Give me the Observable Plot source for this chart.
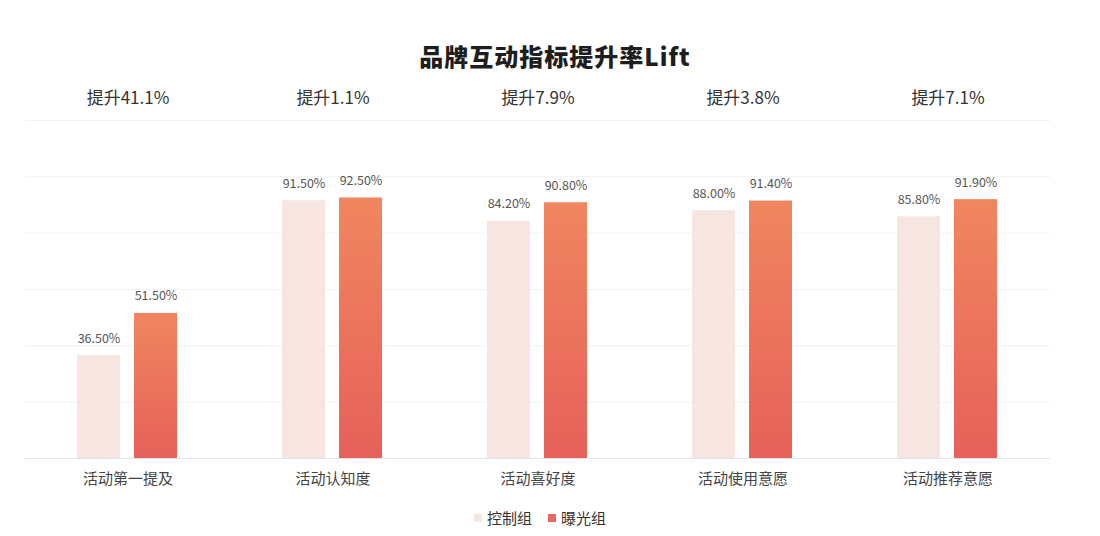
<!DOCTYPE html>
<html>
<head>
<meta charset="utf-8">
<script src="https://cdn.jsdelivr.net/npm/d3@7"></script>
<script src="https://cdn.jsdelivr.net/npm/@observablehq/plot@0.6"></script>
<style>
  html, body { margin: 0; padding: 0; background: #fff; }
  body { width: 1100px; height: 536px; overflow: hidden; font-family: "Noto Sans CJK SC", "Noto Sans", sans-serif; }
  #title { height: 80px; box-sizing: border-box; padding-top: 40px; text-align: center; font-size: 24px; font-weight: 900; color: #1e1e1e; letter-spacing: 1px; line-height: 32px; padding-left: 10px; }
  #legend { display: flex; justify-content: center; gap: 16px; font-size: 15px; color: #333; margin-top: 7px; padding-right: 20px; }
  #legend span.item { display: inline-flex; align-items: center; gap: 5px; }
  #legend span.sw { width: 8px; height: 8px; display: inline-block; }
</style>
</head>
<body>
<div id="title">品牌互动指标提升率Lift</div>
<div id="chart"></div>
<div id="legend"></div>
<script>
const categories = ["活动第一提及", "活动认知度", "活动喜好度", "活动使用意愿", "活动推荐意愿"];
const groups = ["控制组", "曝光组"];
const controlValues = [36.5, 91.5, 84.2, 88.0, 85.8];
const exposedValues = [51.5, 92.5, 90.8, 91.4, 91.9];
const liftLabels = ["提升41.1%", "提升1.1%", "提升7.9%", "提升3.8%", "提升7.1%"];
const gridTicks = [20, 40, 60, 80, 100, 120];

const data = [];
categories.forEach((c, i) => {
  data.push({category: c, group: groups[0], value: controlValues[i]});
  data.push({category: c, group: groups[1], value: exposedValues[i]});
});
const lifts = categories.map((c, i) => ({category: c, label: liftLabels[i]}));

const defs = () => {
  const ns = "http://www.w3.org/2000/svg";
  const d = document.createElementNS(ns, "defs");
  d.innerHTML = `<linearGradient id="expGrad" x1="0" y1="0" x2="0" y2="1">
      <stop offset="0%" stop-color="#f0865f"/>
      <stop offset="100%" stop-color="#e6615a"/>
    </linearGradient>`;
  return d;
};

const chart = Plot.plot({
  width: 1100,
  height: 420,
  marginLeft: 25,
  marginRight: 50,
  marginTop: 40,
  marginBottom: 42,
  style: {fontFamily: "'Noto Sans CJK SC', 'Noto Sans', sans-serif", background: "transparent"},
  fx: {domain: categories, padding: 0, label: null},
  x: {domain: groups, axis: null, paddingInner: 0.24, paddingOuter: 0.89},
  y: {domain: [0, 120], axis: null},
  marks: [
    defs,
    Plot.axisFx({anchor: "bottom", tickSize: 0, tickPadding: 15, fontSize: 15, fill: "#444", label: null}),
    Plot.ruleY(gridTicks, {stroke: "#eef1f5", strokeWidth: 1}),
    Plot.barY(data, {
      fx: "category", x: "group", y: "value",
      fill: d => d.group === groups[0] ? "#f6e5e1" : "url(#expGrad)"
    }),
    Plot.text(data, {
      fx: "category", x: "group", y: "value",
      text: d => d.value.toFixed(2) + "%",
      dy: -17, fontSize: 12.5, fill: "#555"
    }),
    Plot.text(lifts, {
      fx: "category", text: "label", frameAnchor: "top",
      dy: -29, fontSize: 17, fill: "#333"
    }),
    Plot.ruleY([0], {stroke: "#dfe3e8", strokeWidth: 1})
  ]
});
document.getElementById("chart").appendChild(chart);

const colors = ["#f6e5e1", "#e8675b"];
const legend = document.getElementById("legend");
groups.forEach((g, i) => {
  const item = document.createElement("span");
  item.className = "item";
  item.innerHTML = `<span class="sw" style="background:${colors[i]}"></span>${g}`;
  legend.appendChild(item);
});
</script>
</body>
</html>
